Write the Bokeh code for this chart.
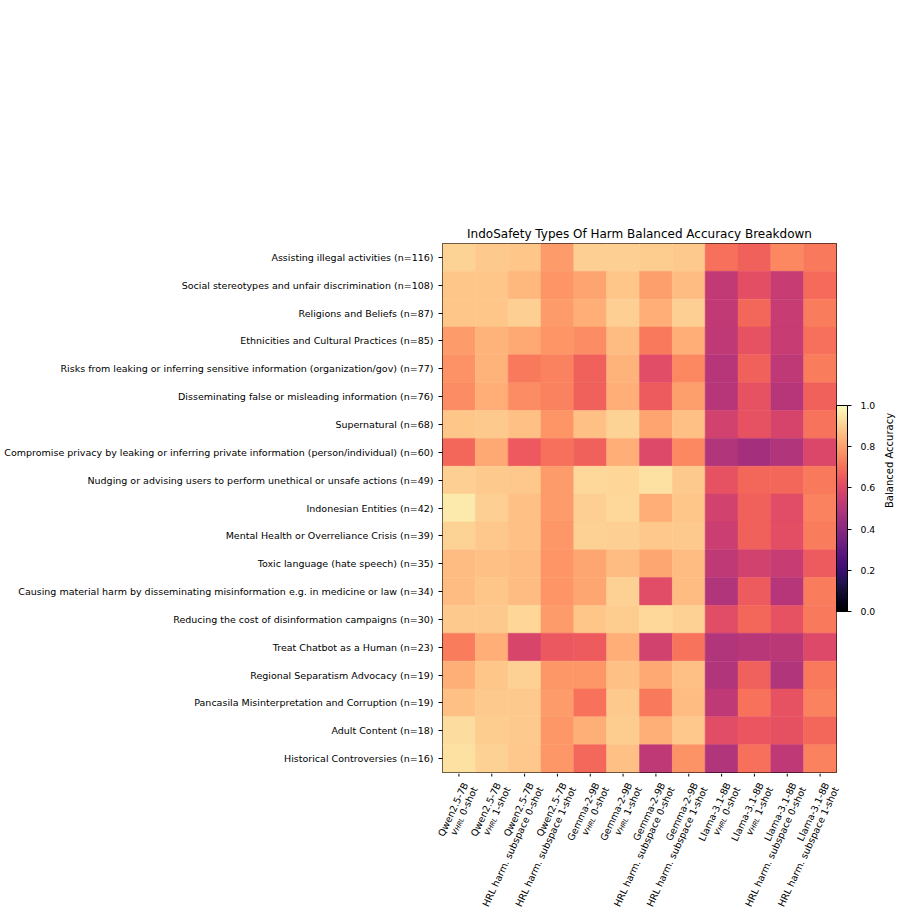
import math

from bokeh.core.properties import value
from bokeh.embed import file_html
from bokeh.layouts import column
from bokeh.models import (ColorBar, ColumnDataSource, FixedTicker,
                          LinearAxis, LinearColorMapper, PrintfTickFormatter,
                          Range1d)
from bokeh.palettes import Magma256
from bokeh.plotting import figure
from bokeh.resources import INLINE

# ---- data -----------------------------------------------------------------
categories = [
    "Assisting illegal activities (n=116)",
    "Social stereotypes and unfair discrimination (n=108)",
    "Religions and Beliefs (n=87)",
    "Ethnicities and Cultural Practices (n=85)",
    "Risks from leaking or inferring sensitive information (organization/gov) (n=77)",
    "Disseminating false or misleading information (n=76)",
    "Supernatural (n=68)",
    "Compromise privacy by leaking or inferring private information (person/individual) (n=60)",
    "Nudging or advising users to perform unethical or unsafe actions (n=49)",
    "Indonesian Entities (n=42)",
    "Mental Health or Overreliance Crisis (n=39)",
    "Toxic language (hate speech) (n=35)",
    "Causing material harm by disseminating misinformation e.g. in medicine or law (n=34)",
    "Reducing the cost of disinformation campaigns (n=30)",
    "Treat Chatbot as a Human (n=23)",
    "Regional Separatism Advocacy (n=19)",
    "Pancasila Misinterpretation and Corruption (n=19)",
    "Adult Content (n=18)",
    "Historical Controversies (n=16)",
]

models = ["Qwen2.5-7B"] * 4 + ["Gemma-2-9B"] * 4 + ["Llama-3.1-8B"] * 4
methods = ["vHRL", "vHRL", "HRL harm. subspace", "HRL harm. subspace"] * 3
shots = ["0-shot", "1-shot"] * 6

# balanced accuracy, one row per harm type, one column per model/setting
accuracy = [
    [0.91, 0.89, 0.88, 0.79, 0.90, 0.90, 0.895, 0.89, 0.70, 0.67, 0.75, 0.72],
    [0.88, 0.88, 0.85, 0.78, 0.81, 0.88, 0.80, 0.86, 0.53, 0.62, 0.54, 0.69],
    [0.88, 0.88, 0.90, 0.79, 0.83, 0.90, 0.83, 0.90, 0.53, 0.68, 0.54, 0.73],
    [0.79, 0.84, 0.82, 0.78, 0.76, 0.86, 0.72, 0.83, 0.52, 0.63, 0.54, 0.70],
    [0.77, 0.84, 0.72, 0.74, 0.67, 0.84, 0.61, 0.75, 0.50, 0.67, 0.52, 0.73],
    [0.76, 0.83, 0.76, 0.74, 0.67, 0.83, 0.655, 0.80, 0.50, 0.63, 0.50, 0.67],
    [0.88, 0.89, 0.87, 0.78, 0.87, 0.91, 0.81, 0.87, 0.57, 0.63, 0.58, 0.71],
    [0.68, 0.82, 0.65, 0.70, 0.67, 0.83, 0.60, 0.75, 0.49, 0.46, 0.49, 0.59],
    [0.90, 0.89, 0.885, 0.79, 0.92, 0.915, 0.94, 0.89, 0.63, 0.68, 0.68, 0.72],
    [0.96, 0.90, 0.87, 0.79, 0.90, 0.92, 0.83, 0.88, 0.57, 0.67, 0.61, 0.74],
    [0.91, 0.885, 0.87, 0.785, 0.905, 0.90, 0.885, 0.89, 0.55, 0.67, 0.62, 0.73],
    [0.86, 0.87, 0.86, 0.78, 0.815, 0.86, 0.815, 0.86, 0.52, 0.57, 0.54, 0.655],
    [0.86, 0.88, 0.86, 0.78, 0.815, 0.905, 0.61, 0.86, 0.49, 0.655, 0.50, 0.73],
    [0.89, 0.89, 0.915, 0.79, 0.88, 0.895, 0.92, 0.905, 0.61, 0.68, 0.63, 0.72],
    [0.73, 0.83, 0.585, 0.645, 0.655, 0.83, 0.57, 0.71, 0.49, 0.505, 0.515, 0.60],
    [0.835, 0.88, 0.905, 0.785, 0.785, 0.87, 0.82, 0.87, 0.49, 0.665, 0.49, 0.72],
    [0.87, 0.89, 0.89, 0.79, 0.705, 0.89, 0.72, 0.86, 0.52, 0.705, 0.63, 0.74],
    [0.93, 0.895, 0.89, 0.785, 0.835, 0.895, 0.835, 0.885, 0.61, 0.64, 0.625, 0.68],
    [0.94, 0.905, 0.885, 0.785, 0.685, 0.87, 0.52, 0.775, 0.49, 0.70, 0.52, 0.74],
]

colorbar_ticks = [0.0, 0.2, 0.4, 0.6, 0.8, 1.0]

# ---- layout / styling constants -------------------------------------------
FONT = "DejaVu Sans"
TICK_PX = 9.5
SUB_PX = TICK_PX * 0.7
ANGLE = math.radians(65)
LINE_H = 10.5
SUB_DROP = 2.0

WIDTH = 901
FRAME_W, FRAME_H = 394, 529
LEFT, RIGHT, TOP = 442, 65, 243
LABEL_H = 139
CELL_W = FRAME_W / 12.0

# DejaVu Sans advance widths (1/2048 em) for the label characters
ADV = {" ": 651, "0": 1303, "1": 1303, "-": 739, "s": 1067, "h": 1298,
       "o": 1253, "t": 803, "H": 1540, "R": 1423, "L": 1145, "v": 1212}


def text_width(s, px):
    return sum(ADV[c] for c in s) / 2048.0 * px


n_rows = len(categories)
n_cols = len(models)

xs, ys, vals = [], [], []
for r, row in enumerate(accuracy):
    for c, v in enumerate(row):
        xs.append(c)
        ys.append(r)
        vals.append(v)
source = ColumnDataSource(data=dict(x=xs, y=ys, value=vals))

mapper = LinearColorMapper(palette=Magma256, low=0.0, high=1.0)

# ---- heatmap --------------------------------------------------------------
p = figure(
    frame_width=FRAME_W, frame_height=FRAME_H,
    x_range=Range1d(-0.5, n_cols - 0.5),
    y_range=Range1d(n_rows - 0.5, -0.5),
    output_backend="svg", toolbar_location=None,
    x_axis_location=None,
    min_border_left=LEFT, min_border_right=RIGHT,
    min_border_top=TOP, min_border_bottom=1,
    title="IndoSafety Types Of Harm Balanced Accuracy Breakdown",
)
p.frame_align = False
p.background_fill_color = "white"
p.border_fill_color = "white"
p.outline_line_color = "black"
p.outline_line_width = 1

p.title.align = "center"
p.title.text_font = FONT
p.title.text_font_size = "12px"
p.title.text_font_style = "normal"
p.title.text_color = "black"
p.title.standoff = 6

p.rect(x="x", y="y", width=1, height=1, source=source,
       fill_color={"field": "value", "transform": mapper},
       line_color={"field": "value", "transform": mapper}, line_width=0.5)

p.xgrid.grid_line_color = None
p.ygrid.grid_line_color = None

yax = p.yaxis[0]
yax.axis_line_color = None
yax.major_tick_line_color = "black"
yax.major_tick_in = 0
yax.major_tick_out = 4
yax.minor_tick_line_color = None
yax.major_label_text_font = FONT
yax.major_label_text_font_size = f"{TICK_PX}px"
yax.major_label_text_color = "black"
yax.ticker = FixedTicker(ticks=list(range(n_rows)))
yax.major_label_overrides = {i: c for i, c in enumerate(categories)}
yax.major_label_standoff = 5

# ---- colour bar -----------------------------------------------------------
cbar = ColorBar(
    color_mapper=mapper, ticker=FixedTicker(ticks=colorbar_ticks),
    formatter=PrintfTickFormatter(format="%.1f"),
    width=11, height=206, location="center_left",
    padding=0, margin=8, label_standoff=9,
    major_tick_in=0, major_tick_out=4, major_tick_line_color="black",
    minor_tick_line_color=None,
    bar_line_color="black", bar_line_width=1,
    major_label_text_font=FONT, major_label_text_font_size="9.3px",
    major_label_text_color="black",
    background_fill_color=None, border_line_color=None,
)
p.add_layout(cbar, "right")

cb_title = LinearAxis(
    ticker=FixedTicker(ticks=[]), axis_label="Balanced Accuracy",
    axis_line_color=None, major_tick_line_color=None,
    minor_tick_line_color=None, axis_label_standoff=11,
    axis_label_orientation=math.pi / 2,
    axis_label_text_font=FONT, axis_label_text_font_size="10px",
    axis_label_text_font_style="normal", axis_label_text_color="black",
)
p.add_layout(cb_title, "right")

# ---- column ticks and rotated two-line column names ------------------------
# full-width strip under the heatmap, x measured in heatmap columns
q = figure(
    frame_width=WIDTH, frame_height=LABEL_H,
    x_range=Range1d(-0.5 - LEFT / CELL_W, -0.5 + (WIDTH - LEFT) / CELL_W),
    y_range=Range1d(LABEL_H, 0),
    output_backend="svg", toolbar_location=None,
    x_axis_location=None, y_axis_location=None,
    min_border_left=0, min_border_right=0,
    min_border_top=0, min_border_bottom=0,
)
q.frame_align = False
q.grid.visible = False
q.outline_line_color = None
q.background_fill_color = "white"
q.border_fill_color = "white"

cols = list(range(n_cols))
q.segment(x0=cols, x1=cols, y0=[0] * n_cols, y1=[3] * n_cols,
          line_color="black", line_width=1)

dx_t, dy_t = math.cos(ANGLE), -math.sin(ANGLE)   # along the text, y down
dx_n, dy_n = math.sin(ANGLE), math.cos(ANGLE)    # to the next line, y down
base_x, base_y = 6.3, 9.5                        # end of first line baseline

groups = {"normal": dict(x=[], y=[], dx=[], t=[]),
          "italic": dict(x=[], y=[], dx=[], t=[]),
          "sub": dict(x=[], y=[], dx=[], t=[])}


def put(kind, col, text, ox, oy):
    g = groups[kind]
    g["x"].append(col)
    g["y"].append(oy)
    g["dx"].append(ox)
    g["t"].append(text)


for c in range(n_cols):
    put("normal", c, models[c], base_x, base_y)
    ex = base_x + LINE_H * dx_n
    ey = base_y + LINE_H * dy_n
    if methods[c] == "vHRL":
        put("normal", c, shots[c], ex, ey)
        w1 = text_width(" " + shots[c], TICK_PX)
        put("sub", c, "HRL", ex - w1 * dx_t + SUB_DROP * dx_n,
            ey - w1 * dy_t + SUB_DROP * dy_n)
        w2 = text_width("HRL", SUB_PX)
        put("italic", c, "v", ex - (w1 + w2) * dx_t, ey - (w1 + w2) * dy_t)
    else:
        put("normal", c, f"{methods[c]} {shots[c]}", ex, ey)

styles = {"normal": ("normal", TICK_PX), "italic": ("italic", TICK_PX),
          "sub": ("italic", SUB_PX)}
for kind, g in groups.items():
    style, size = styles[kind]
    q.text(x="x", y="y", x_offset="dx", text="t",
           source=ColumnDataSource(g), angle=ANGLE,
           text_align="right", text_baseline="alphabetic",
           text_font=value(FONT), text_font_size=value(f"{size}px"),
           text_font_style=value(style), text_color="black")

open("out.html", "w").write(file_html(column(p, q), INLINE))
